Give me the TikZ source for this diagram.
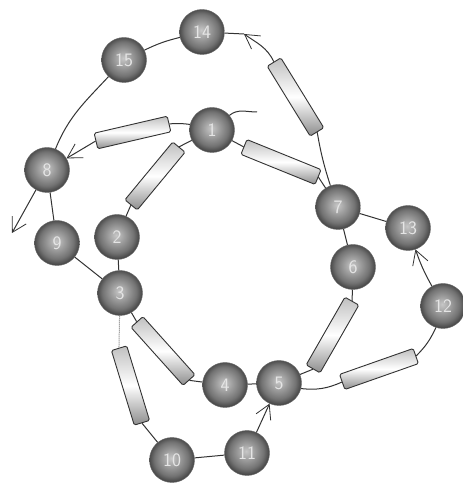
\documentclass[tikz,border=0pt]{standalone}
\usetikzlibrary{arrows.meta}
\pgfdeclareradialshading{sphere}{\pgfpoint{-1bp}{2bp}}{color(0bp)=(black!22); color(9bp)=(black!38); color(19bp)=(black!55); color(25bp)=(black!72); color(50bp)=(black!72)}
\tikzset{
 res/.style={circle, minimum size=45pt, inner sep=0pt, shade, shading=sphere, draw=black!60, line width=0.4pt, font=\sffamily\fontsize{19}{19}\selectfont, text=black!10},
 helix/.style={rectangle, minimum height=16pt, inner sep=0pt, draw=black!80, line width=0.9pt, top color=black!25, bottom color=black!45, middle color=white, rounded corners=1.5pt},
 link/.style={draw=black!80, line width=1pt},
 arr/.style={link, -{Straight Barb[length=14pt,width=16pt,line width=0.8pt]}}
}
\begin{document}
\begin{tikzpicture}[x=1pt,y=1pt]
\useasboundingbox (0,0) rectangle (463,485);
\fill[white] (0,0) rectangle (463,485);
% helices
\node[helix, minimum width=75pt, rotate=13.1] (h81) at (132.5,352.5) {};
\node[helix, minimum width=75pt, rotate=50.4] (h12) at (155,309) {};
\node[helix, minimum width=80pt, rotate=-22.1] (h17) at (281,323) {};
\node[helix, minimum width=82pt, rotate=-58.4] (h147) at (295.5,388) {};
\node[helix, minimum width=78pt, rotate=-48.1] (h34) at (163,134) {};
\node[helix, minimum width=78pt, rotate=-73] (h310) at (130.5,99.5) {};
\node[helix, minimum width=78pt, rotate=60.2] (h56) at (332.5,150) {};
\node[helix, minimum width=78pt, rotate=19.4] (h512) at (379,116) {};
% residues
\node[res] (n1) at (212,355) {1};
\node[res] (n2) at (117,248) {2};
\node[res] (n3) at (120,192) {3};
\node[res] (n4) at (225,100) {4};
\node[res] (n5) at (279,102) {5};
\node[res] (n6) at (353,218) {6};
\node[res] (n7) at (338,278) {7};
\node[res] (n8) at (47,315) {8};
\node[res] (n9) at (57,242) {9};
\node[res] (n10) at (172,25) {10};
\node[res] (n11) at (247,32) {11};
\node[res] (n12) at (443,179) {12};
\node[res] (n13) at (408,257) {13};
\node[res] (n14) at (202,453) {14};
\node[res] (n15) at (124,425) {15};
\coordinate (t1) at (257,373);
\coordinate (a14) at (244,451);
\coordinate (o8) at (12,252);
% connectors
\draw[link] (n1.40) to[out=40,in=180] (t1);
\draw[link] (n1) -- (h17.west);
\draw[link] (h17.east) -- (n7);
\draw[link] (n7) to[bend left=4] (h147.east);
\draw[arr] (h147.west) to[out=115,in=-35] (a14);
\draw[link] (a14) -- (n14);
\draw[link] (n14) to[bend right=6] (n15);
\draw[link] (n15) to[out=227,in=68] (n8);
\draw[link] (n1) to[bend right=6] (h81.east);
\draw[arr] (h81.west) -- (n8);
\draw[arr] (n8) -- (o8);
\draw[link] (n8) -- (n9);
\draw[link] (n9) -- (n3);
\draw[link] (n1) -- (h12.east);
\draw[link] (h12.west) -- (n2);
\draw[link] (n2) -- (n3);
\draw[link] (n3) -- (h34.west);
\draw[link] (h34.east) -- (n4);
\draw[link, densely dotted, draw=black!55] (n3) -- (h310.west);
\draw[link] (h310.east) -- (n10);
\draw[link] (n10) -- (n11);
\draw[arr] (n11) -- (n5);
\draw[link] (n4) -- (n5);
\draw[link] (n5) -- (h56.west);
\draw[link] (h56.east) -- (n6);
\draw[link] (n6) -- (n7);
\draw[link] (n7) -- (n13);
\draw[link] (n5) to[bend right=15] (h512.west);
\draw[link] (h512.east) to[bend right=10] (n12);
\draw[arr] (n12) to[bend left=5] (n13);
\end{tikzpicture}
\end{document}
